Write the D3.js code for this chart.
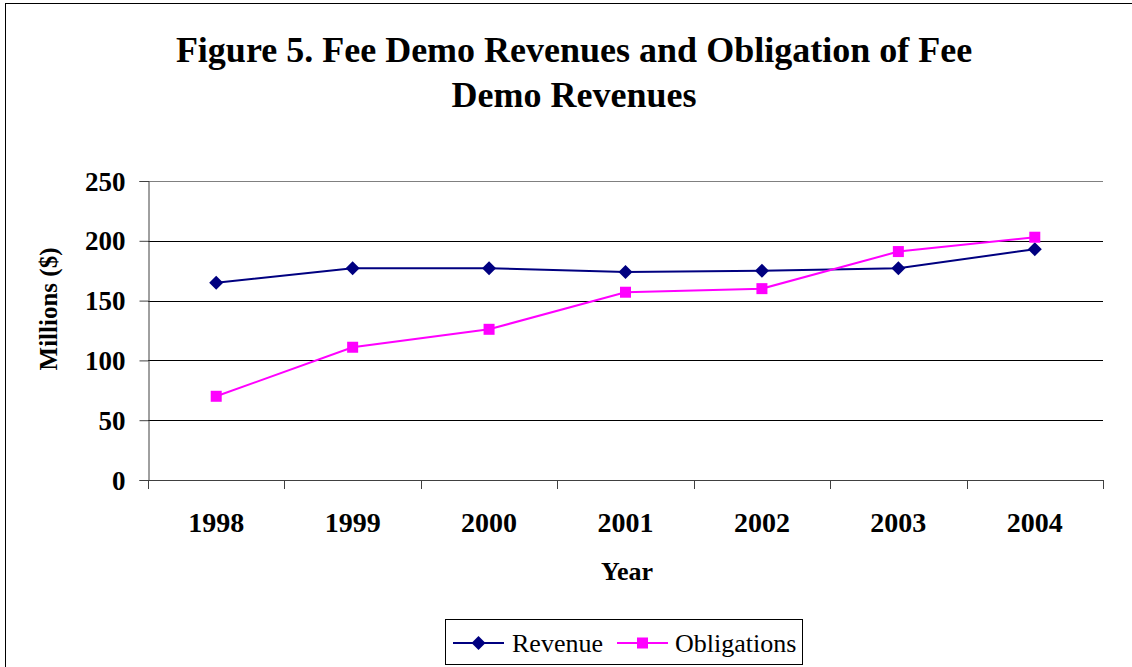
<!DOCTYPE html>
<html>
<head>
<meta charset="utf-8">
<script src="https://cdn.jsdelivr.net/npm/d3@7"></script>
<style>
  html, body { margin: 0; padding: 0; background: #fff; }
  svg { display: block; }
  text { font-family: "Liberation Serif", "Times New Roman", serif; }
</style>
</head>
<body>
<svg id="chart" width="1132" height="667"></svg>
<script>
const years = ["1998", "1999", "2000", "2001", "2002", "2003", "2004"];
const revenue = [165, 177, 177, 174, 175, 177, 193];
const obligations = [70, 111, 126, 157, 160, 191, 203];
const yTicks = [0, 50, 100, 150, 200, 250];
const titleLines = ["Figure 5. Fee Demo Revenues and Obligation of Fee", "Demo Revenues"];
const seriesNames = ["Revenue", "Obligations"];
const seriesColors = ["#000080", "#FF00FF"];

const svg = d3.select("#chart");
const W = 1132, H = 667;
const plot = { left: 148, right: 1103, top: 181, bottom: 480 };

// outer border
svg.append("rect").attr("x", 5.5).attr("y", 3.5).attr("width", W + 10).attr("height", H + 10)
  .attr("fill", "#fff").attr("stroke", "#000").attr("stroke-width", 1);

// title
svg.append("g").selectAll("text").data(titleLines).join("text")
  .attr("x", 574).attr("y", (d, i) => 62 + i * 45)
  .attr("text-anchor", "middle")
  .attr("font-size", 36).attr("font-weight", "bold")
  .text(d => d);

const x = d3.scaleBand().domain(years).range([plot.left, plot.right]).paddingInner(0).paddingOuter(0);
const y = d3.scaleLinear().domain([0, 250]).range([plot.bottom, plot.top]);

// gridlines
svg.append("g").selectAll("line").data(yTicks.filter(t => t > 0)).join("line")
  .attr("x1", plot.left).attr("x2", plot.right)
  .attr("y1", d => Math.round(y(d)) + 0.5).attr("y2", d => Math.round(y(d)) + 0.5)
  .attr("stroke", d => d === 250 ? "#808080" : "#000").attr("stroke-width", 1);

// y axis
const yAxis = d3.axisLeft(y).tickValues(yTicks).tickSize(9).tickPadding(14).tickFormat(d3.format("d"));
const gy = svg.append("g").attr("transform", `translate(${plot.left + 0.5},0)`).call(yAxis);
gy.select(".domain").attr("stroke", "#404040");
gy.selectAll(".tick line").attr("stroke", "#404040");
gy.selectAll(".tick text").attr("font-size", 27).attr("font-weight", "bold")
  .attr("font-family", "Liberation Serif, Times New Roman, serif").attr("fill", "#000")
  .attr("dy", "0.34em");

// x axis
const xAxis = d3.axisBottom(x).tickSize(0).tickPadding(0);
const gx = svg.append("g").attr("transform", `translate(0,${plot.bottom + 0.5})`).call(xAxis);
gx.select(".domain").attr("stroke", "#404040").attr("d", `M${plot.left},0H${plot.right}`);
gx.selectAll(".tick text").attr("font-size", 28).attr("font-weight", "bold")
  .attr("font-family", "Liberation Serif, Times New Roman, serif").attr("fill", "#000")
  .attr("y", 51).attr("dy", 0);
// category boundary ticks
const bounds = years.map(d => x(d)).concat([x(years[years.length - 1]) + x.bandwidth()]);
svg.append("g").selectAll("line").data(bounds).join("line")
  .attr("x1", d => Math.round(d) + 0.5).attr("x2", d => Math.round(d) + 0.5)
  .attr("y1", plot.bottom).attr("y2", plot.bottom + 9)
  .attr("stroke", "#404040");

// axis titles
svg.append("text").attr("x", 627).attr("y", 580).attr("text-anchor", "middle")
  .attr("font-size", 26).attr("font-weight", "bold").text("Year");
svg.append("text").attr("transform", "translate(57,309) rotate(-90)").attr("text-anchor", "middle")
  .attr("font-size", 25).attr("font-weight", "bold").text("Millions ($)");

const cx = d => x(d) + x.bandwidth() / 2;
const line = d3.line().x((d, i) => cx(years[i])).y(d => y(d));

function drawDiamond(g, px, py, color) {
  const s = 7;
  g.append("path").attr("d", `M${px},${py - s}L${px + s},${py}L${px},${py + s}L${px - s},${py}Z`).attr("fill", color);
}
function drawSquare(g, px, py, color) {
  const s = 5.5;
  g.append("rect").attr("x", px - s).attr("y", py - s).attr("width", 2 * s).attr("height", 2 * s).attr("fill", color);
}

// series
const gRev = svg.append("g");
gRev.append("path").datum(revenue).attr("d", line).attr("fill", "none")
  .attr("stroke", seriesColors[0]).attr("stroke-width", 2);
revenue.forEach((v, i) => drawDiamond(gRev, cx(years[i]), y(v), seriesColors[0]));

const gObl = svg.append("g");
gObl.append("path").datum(obligations).attr("d", line).attr("fill", "none")
  .attr("stroke", seriesColors[1]).attr("stroke-width", 2);
obligations.forEach((v, i) => drawSquare(gObl, cx(years[i]), y(v), seriesColors[1]));

// legend
const lg = svg.append("g");
lg.append("rect").attr("x", 445.5).attr("y", 619.5).attr("width", 357).attr("height", 45)
  .attr("fill", "#fff").attr("stroke", "#000");
const ly = 643;
lg.append("line").attr("x1", 453).attr("x2", 504).attr("y1", ly).attr("y2", ly)
  .attr("stroke", seriesColors[0]).attr("stroke-width", 2);
drawDiamond(lg, 478.5, ly, seriesColors[0]);
lg.append("text").attr("x", 512).attr("y", 652).attr("font-size", 26).text(seriesNames[0]);
lg.append("line").attr("x1", 617).attr("x2", 668).attr("y1", ly).attr("y2", ly)
  .attr("stroke", seriesColors[1]).attr("stroke-width", 2);
drawSquare(lg, 642.5, ly, seriesColors[1]);
lg.append("text").attr("x", 675).attr("y", 652).attr("font-size", 26).text(seriesNames[1]);
</script>
</body>
</html>
